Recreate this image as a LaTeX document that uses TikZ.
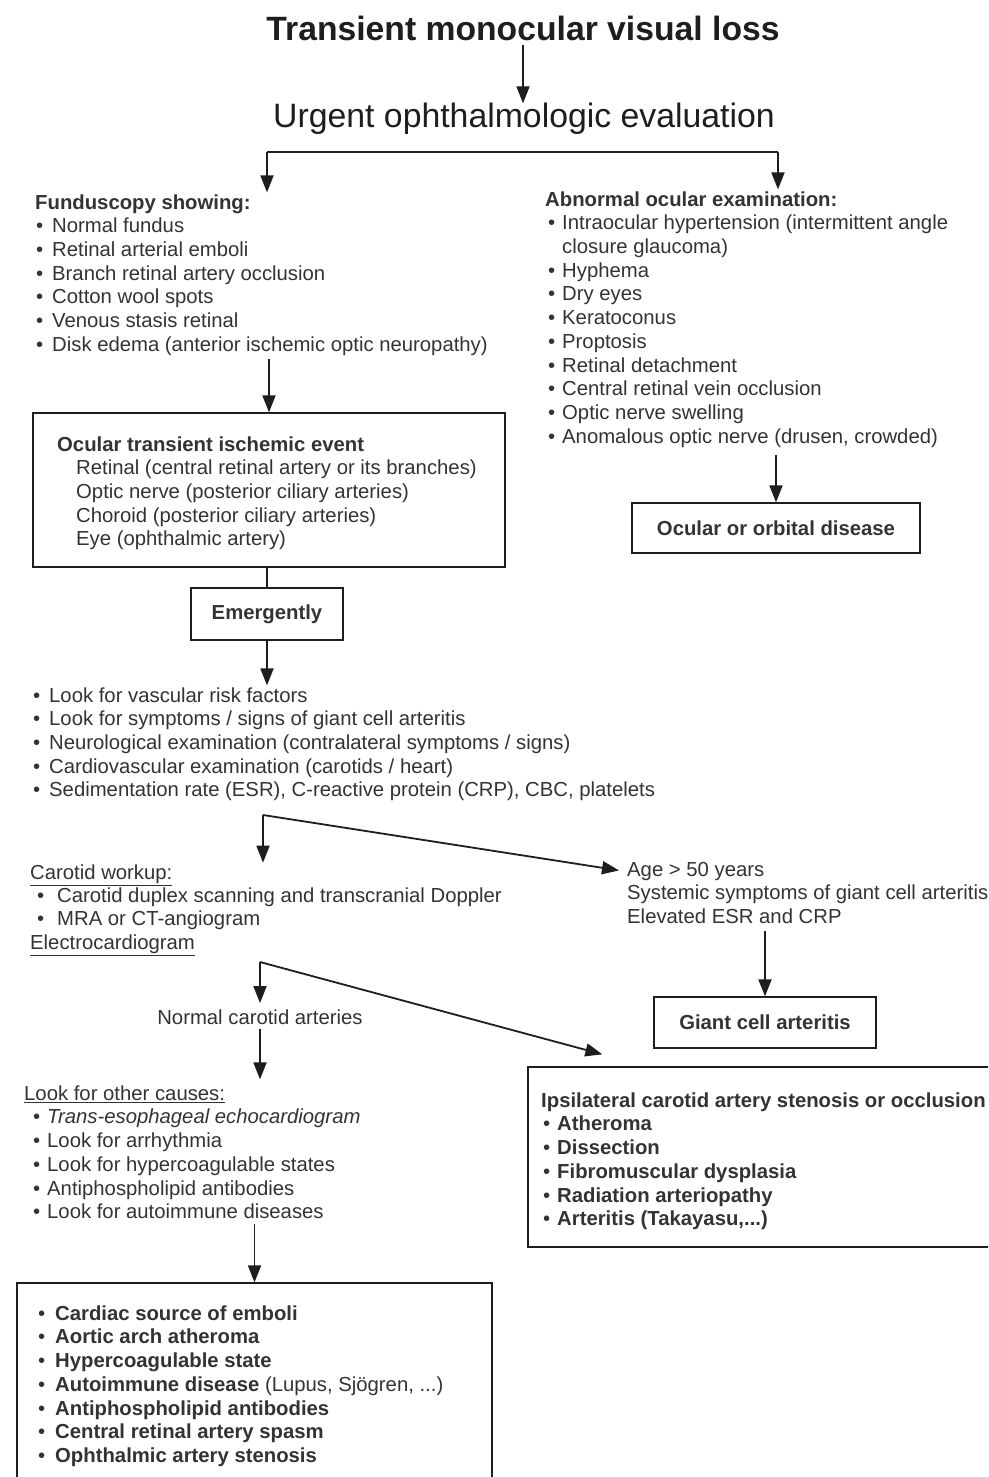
\documentclass[tikz,border=0pt]{standalone}
\usepackage{fontspec}
\setmainfont{Liberation Sans}
\usetikzlibrary{arrows.meta}
\definecolor{ink}{HTML}{1E1E1E}
\definecolor{txt}{HTML}{333333}
\newcommand{\bu}[2]{\hspace*{#1pt}\makebox[#2pt][l]{\textbullet}}
\tikzset{
  body/.style={inner sep=0pt, anchor=north west, align=left, text=txt,
    font=\fontsize{20.3}{23.7}\selectfont},
  boxed/.style={draw=ink, line width=1.3pt, inner sep=0pt, text=txt,
    font=\fontsize{20.3}{23.7}\selectfont\bfseries},
  arr/.style={draw=ink, line width=1.8pt, -{Triangle[length=17pt,width=13pt]}},
  plain/.style={draw=ink, line width=1.8pt}
}
\begin{document}
\begin{tikzpicture}[x=1pt,y=1pt]
\useasboundingbox (0,0) rectangle (988,-1477);
\fill[white] (0,0) rectangle (988,-1477);
\clip (0,0) rectangle (988,-1477);

% titles
\node[inner sep=0pt, anchor=base, text=ink, font=\fontsize{33.7}{40}\selectfont\bfseries]
  (title) at (523,-41) {Transient monocular visual loss};
\node[inner sep=0pt, anchor=base, text=ink, font=\fontsize{33.8}{40}\selectfont]
  (urg) at (524,-128) {Urgent ophthalmologic evaluation};

% left column
\node[body] (fund) at (35,-192.4) {\strut\textbf{Funduscopy showing:}\\
\bu{1}{16}Normal fundus\\
\bu{1}{16}Retinal arterial emboli\\
\bu{1}{16}Branch retinal artery occlusion\\
\bu{1}{16}Cotton wool spots\\
\bu{1}{16}Venous stasis retinal\\
\bu{1}{16}Disk edema (anterior ischemic optic neuropathy)};

% right column
\node[body] (abn) at (545,-189.4) {\strut\textbf{Abnormal ocular examination:}\\
\bu{3}{14}Intraocular hypertension (intermittent angle\\
\hspace*{17pt}closure glaucoma)\\
\bu{3}{14}Hyphema\\
\bu{3}{14}Dry eyes\\
\bu{3}{14}Keratoconus\\
\bu{3}{14}Proptosis\\
\bu{3}{14}Retinal detachment\\
\bu{3}{14}Central retinal vein occlusion\\
\bu{3}{14}Optic nerve swelling\\
\bu{3}{14}Anomalous optic nerve (drusen, crowded)};

\node[boxed, minimum width=288pt, minimum height=50pt] (ood) at (776,-528) {Ocular or orbital disease};

% ocular transient ischemic event box
\node[boxed, minimum width=472pt, minimum height=154pt] (ocu) at (269,-490) {};
\node[body] (ocut) at (57,-434.4) {\strut\textbf{Ocular transient ischemic event}\\
\hspace*{19pt}Retinal (central retinal artery or its branches)\\
\hspace*{19pt}Optic nerve (posterior ciliary arteries)\\
\hspace*{19pt}Choroid (posterior ciliary arteries)\\
\hspace*{19pt}Eye (ophthalmic artery)};

\node[boxed, minimum width=152pt, minimum height=52pt] (emg) at (267,-614) {Emergently};

\node[body] (chk) at (33,-685.4) {\strut\bu{0}{16}Look for vascular risk factors\\
\bu{0}{16}Look for symptoms / signs of giant cell arteritis\\
\bu{0}{16}Neurological examination (contralateral symptoms / signs)\\
\bu{0}{16}Cardiovascular examination (carotids / heart)\\
\bu{0}{16}Sedimentation rate (ESR), C-reactive protein (CRP), CBC, platelets};

\node[body, font=\fontsize{20.3}{23.3}\selectfont] (car) at (30,-862.7) {\strut\underline{Carotid workup:}\\
\bu{7}{20}Carotid duplex scanning and transcranial Doppler\\
\bu{7}{20}MRA or CT-angiogram\\
\underline{Electrocardiogram}};

\node[body] (age) at (627,-859.4) {\strut Age > 50 years\\
Systemic symptoms of giant cell arteritis\\
Elevated ESR and CRP};

\node[boxed, minimum width=222pt, minimum height=51pt] (gca) at (765,-1022.5) {Giant cell arteritis};

\node[inner sep=0pt, anchor=base, text=txt, font=\fontsize{20.3}{23.7}\selectfont]
  (norm) at (260,-1024) {Normal carotid arteries};

\node[body] (oth) at (24,-1083.4) {\strut\underline{Look for other causes:}\\
\bu{9}{14}\textit{Trans-esophageal echocardiogram}\\
\bu{9}{14}Look for arrhythmia\\
\bu{9}{14}Look for hypercoagulable states\\
\bu{9}{14}Antiphospholipid antibodies\\
\bu{9}{14}Look for autoimmune diseases};

% ipsilateral box
\node[boxed, minimum width=482pt, minimum height=180pt] (ips) at (769,-1157) {};
\node[body] (ipst) at (541,-1090.4) {\strut\textbf{Ipsilateral carotid artery stenosis or occlusion}\\
\bu{2}{14}\textbf{Atheroma}\\
\bu{2}{14}\textbf{Dissection}\\
\bu{2}{14}\textbf{Fibromuscular dysplasia}\\
\bu{2}{14}\textbf{Radiation arteriopathy}\\
\bu{2}{14}\textbf{Arteritis (Takayasu,...)}};

% final box
\node[boxed, minimum width=475pt, minimum height=217pt] (fin) at (254.5,-1391.5) {};
\node[body] (fint) at (38,-1303.4) {\strut\bu{0}{17}\textbf{Cardiac source of emboli}\\
\bu{0}{17}\textbf{Aortic arch atheroma}\\
\bu{0}{17}\textbf{Hypercoagulable state}\\
\bu{0}{17}\textbf{Autoimmune disease} (Lupus, Sjögren, ...)\\
\bu{0}{17}\textbf{Antiphospholipid antibodies}\\
\bu{0}{17}\textbf{Central retinal artery spasm}\\
\bu{0}{17}\textbf{Ophthalmic artery stenosis}};

% connectors
\coordinate (bl) at (267,-152);
\coordinate (br) at (778,-152);
\coordinate (c1) at (263,-815);
\coordinate (c2) at (260,-962);

\draw[arr] ([yshift=-3pt]title.south) -- (title.south |- urg.north);
\draw[plain] (bl) -- (br);
\draw[arr] (bl) -- (bl |- fund.north);
\draw[arr] (br) -- (br |- abn.north);
\draw[arr] ([yshift=-3pt]fund.south -| ocu.north) -- (ocu.north);
\draw[plain] (ocu.south -| emg.north) -- (emg.north);
\draw[arr] (emg.south) -- (emg.south |- chk.north);
\draw[arr] (c1) -- (c1 |- car.north);
\draw[arr] (c1) -- ([xshift=-8pt,yshift=-11pt]age.north west);
\draw[arr] ([yshift=-7pt]age.south -| gca.north) -- (gca.north);
\draw[arr] (c2) -- ([yshift=6pt]c2 |- norm.north);
\draw[arr] (c2) -- ([xshift=75pt,yshift=12pt]ips.north west);
\draw[arr] ([yshift=-5pt]norm.south) -- ([yshift=4pt]norm.south |- oth.north);
\draw[arr] ([yshift=-5pt]oth.south -| fin.north) -- (fin.north);
\draw[arr] ([yshift=-7pt]abn.south -| ood.north) -- (ood.north);
\end{tikzpicture}
\end{document}
